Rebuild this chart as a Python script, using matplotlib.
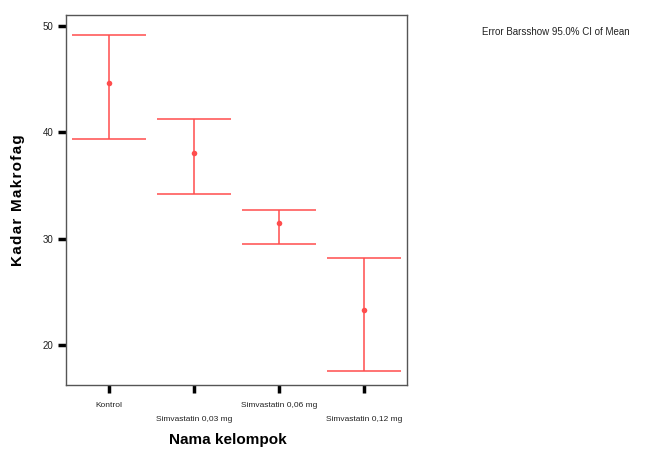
import matplotlib
matplotlib.use("Agg")
from matplotlib import pyplot as plt

# data
groups = ["Kontrol", "Simvastatin 0,03 mg", "Simvastatin 0,06 mg", "Simvastatin 0,12 mg"]
means = [44.66, 38.0, 31.44, 23.3]
upper = [49.1, 41.25, 32.7, 28.2]
lower = [39.35, 34.2, 29.45, 17.55]

plt.rcParams['font.family'] = ['Liberation Sans', 'DejaVu Sans']

fig = plt.figure(figsize=(6.6, 4.51), dpi=100)
ax = fig.add_axes([66 / 660, 1 - 385 / 451, 341 / 660, 370 / 451])

red = '#ff4d4d'
xs = list(range(len(groups)))
err_lo = [m - l for m, l in zip(means, lower)]
err_hi = [u - m for m, u in zip(means, upper)]
ax.errorbar(xs, means, yerr=[err_lo, err_hi], fmt='o', color=red, ecolor=red,
            markersize=4, markeredgewidth=0, elinewidth=1.1)
cap = 0.435
ax.hlines(upper, [x - cap for x in xs], [x + cap for x in xs], color=red, linewidth=1.1)
ax.hlines(lower, [x - cap for x in xs], [x + cap for x in xs], color=red, linewidth=1.1)

ax.set_xlim(-0.5, 3.5)
ax.set_ylim(16.25, 51.0)
ax.set_yticks([20, 30, 40, 50])
ax.set_xticks(xs)
ax.set_xticklabels(groups, fontsize=6)
for i, lab in enumerate(ax.get_xticklabels()):
    if i % 2 == 1:
        lab.set_y(-0.038)

ax.tick_params(axis='both', direction='out', length=6, width=2.5, color='black',
               labelsize=7, labelcolor='#222222', pad=3)
ax.tick_params(axis='x', labelsize=6, pad=6)
for sp in ax.spines.values():
    sp.set_color('#555555')
    sp.set_linewidth(1.0)

ylab = '\u200a'.join('Kadar Makrofag')
fig.text(18 / 660, 1 - 200 / 451, ylab, fontsize=11, fontweight='bold',
         rotation=90, ha='center', va='center')
fig.text(228 / 660, 1 - 440 / 451, 'Nama kelompok', fontsize=11, fontweight='bold',
         ha='center', va='center')

fig.text(482 / 660, 1 - 32 / 451, 'Error Barsshow 95.0% CI of Mean', fontsize=7,
         color='#222222', va='center', ha='left')

fig.savefig('out.png', dpi=100)
